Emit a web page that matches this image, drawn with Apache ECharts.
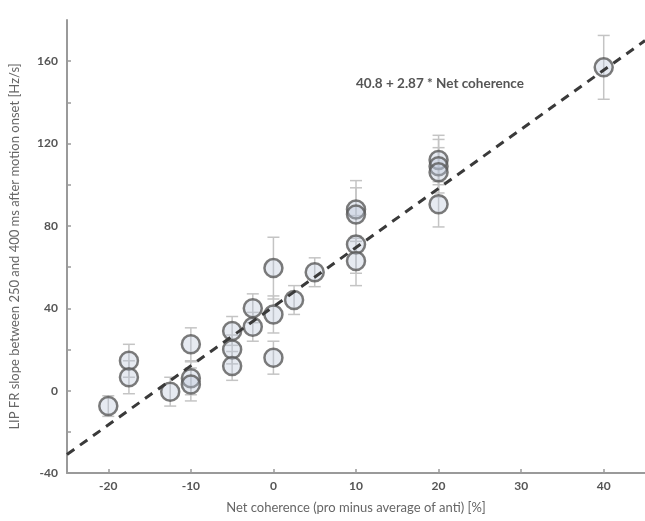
<!DOCTYPE html>
<html><head><meta charset="utf-8">
<script src="https://cdn.jsdelivr.net/npm/echarts@6/dist/echarts.min.js"></script>
<style>html,body{margin:0;padding:0;background:#fff}#c{width:645px;height:521px}</style>
</head><body><div id="c"></div>
<script>
var netCoherence = [-20, -17.5, -17.5, -12.5, -10, -10, -10, -5, -5, -5, -2.5, -2.5, 0, 0, 0, 2.5, 5, 10, 10, 10, 10, 20, 20, 20, 20, 40];
var frSlope =      [-7.5, 14.5, 6.5, -0.5, 22.5, 6, 3, 29, 20, 12, 40, 31, 59.5, 37, 16, 44, 57.5, 88, 85.5, 71, 63, 112, 109, 106, 90.5, 157];
var frError =      [5, 8, 8, 7, 8, 8, 8, 7, 7, 7, 7, 7, 15, 9, 8, 7, 7, 14, 13, 14, 12, 12, 13, 12, 11, 15.5];
var fitX = [-25, 45];
var fitY = [-31, 170];
var xTicks = [-20, -10, 0, 10, 20, 30, 40];
var yTicks = [-40, 0, 40, 80, 120, 160];
var yMinorTicks = [-40, -20, 0, 20, 40, 60, 80, 100, 120, 140, 160];
var fitLabel = '40.8 + 2.87 * Net coherence';
var xName = 'Net coherence (pro minus average of anti) [%]';
var yName = 'LIP FR slope between 250 and 400 ms after motion onset [Hz/s]';

var pts = netCoherence.map(function (x, i) { return [x, frSlope[i]]; });
var errs = netCoherence.map(function (x, i) { return [x, frSlope[i] - frError[i], frSlope[i] + frError[i]]; });
var fit = fitX.map(function (x, i) { return [x, fitY[i]]; });

var FONT = 'Lato';
var axisColor = '#9a9a9a';
var chart = echarts.init(document.getElementById('c'));
chart.setOption({
  animation: false,
  backgroundColor: '#fff',
  grid: { left: 66, right: 0, top: 20, bottom: 48 },
  xAxis: {
    type: 'value', min: -25, max: 45,
    name: xName, nameLocation: 'middle', nameGap: 28,
    nameTextStyle: { color: '#666', fontSize: 13, fontFamily: FONT },
    axisLine: { show: true, onZero: false, lineStyle: { color: axisColor, width: 2 } },
    axisTick: { show: true, inside: true, length: 4, customValues: xTicks, lineStyle: { color: axisColor, width: 1.5 } },
    axisLabel: { customValues: xTicks, color: '#555', fontSize: 12, fontFamily: FONT, fontWeight: 'bold', margin: 7 },
    splitLine: { show: false }
  },
  yAxis: {
    type: 'value', min: -40, max: 180,
    name: yName, nameLocation: 'middle', nameGap: 46, nameRotate: 90,
    nameTextStyle: { color: '#666', fontSize: 13, fontFamily: FONT },
    axisLine: { show: true, onZero: false, lineStyle: { color: axisColor, width: 2 } },
    axisTick: { show: true, inside: true, length: 4, customValues: yMinorTicks, lineStyle: { color: axisColor, width: 1.5 } },
    axisLabel: { customValues: yTicks, color: '#555', fontSize: 12, fontFamily: FONT, fontWeight: 'bold', margin: 9 },
    splitLine: { show: false }
  },
  graphic: [{
    type: 'text', left: 356, top: 77,
    style: { text: fitLabel, fill: '#555', font: 'bold 13.5px ' + FONT }
  }],
  series: [
    {
      type: 'custom', data: errs, z: 1,
      renderItem: function (params, api) {
        var x = api.value(0);
        var lo = api.coord([x, api.value(1)]);
        var hi = api.coord([x, api.value(2)]);
        var w = 6;
        var st = { stroke: '#c4c4c4', lineWidth: 1.5 };
        return { type: 'group', children: [
          { type: 'line', shape: { x1: lo[0], y1: lo[1], x2: hi[0], y2: hi[1] }, style: st },
          { type: 'line', shape: { x1: lo[0] - w, y1: lo[1], x2: lo[0] + w, y2: lo[1] }, style: st },
          { type: 'line', shape: { x1: hi[0] - w, y1: hi[1], x2: hi[0] + w, y2: hi[1] }, style: st }
        ]};
      }
    },
    {
      type: 'scatter', data: pts, z: 3, symbol: 'circle', symbolSize: 18,
      itemStyle: { color: 'rgba(185,198,215,0.45)', borderColor: '#5a5a5a', borderWidth: 2.5 }
    },
    {
      type: 'line', data: fit, z: 4, symbol: 'none',
      lineStyle: { color: '#3a3a3a', width: 3, type: [9, 7] }
    }
  ]
});
</script>
</body></html>
